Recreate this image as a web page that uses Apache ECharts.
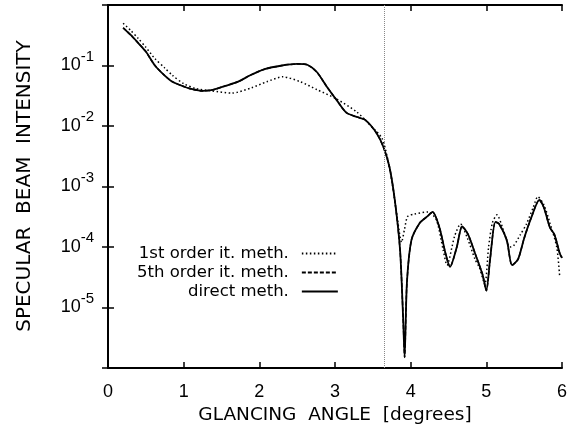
<!DOCTYPE html>
<html>
<head>
<meta charset="utf-8">
<script src="https://cdn.jsdelivr.net/npm/echarts@6/dist/echarts.min.js"></script>
<style>
    html, body { margin: 0; padding: 0; background: #fff; }
    #chart { width: 575px; height: 424px; }
</style>
</head>
<body>
<div id="chart"></div>
<script>
// glancing angle [degrees] and specular beam intensity
var directAngle = [0.20, 0.30, 0.40, 0.50, 0.62, 0.75, 0.85, 1.00, 1.10, 1.25, 1.40, 1.55, 1.72, 1.88, 2.07, 2.30, 2.50, 2.64, 2.76, 2.89,
    3.02, 3.15, 3.29, 3.40, 3.55, 3.64, 3.72, 3.79, 3.86, 3.90, 3.92, 3.95, 4.01, 4.12, 4.22, 4.29, 4.38, 4.46, 4.52, 4.61,
    4.68, 4.76, 4.85, 4.95, 5.00, 5.05, 5.12, 5.17, 5.27, 5.34, 5.42, 5.50, 5.60, 5.70, 5.76, 5.84, 5.90, 5.97, 6.00];
var directVal = [0.42, 0.32, 0.235, 0.17, 0.10, 0.068, 0.054, 0.045, 0.041, 0.038, 0.040, 0.046, 0.054, 0.069, 0.087, 0.100, 0.106, 0.102, 0.078, 0.045,
    0.027, 0.0166, 0.0141, 0.0126, 0.0076, 0.0045, 0.0021, 6.0e-4, 8.9e-5, 6.9e-6, 1.5e-6, 2.5e-5, 1.3e-4, 2.5e-4, 3.2e-4, 3.8e-4, 2.1e-4, 7.9e-5, 4.7e-5, 1.0e-4,
    2.2e-4, 1.6e-4, 7.9e-5, 3.5e-5, 1.9e-5, 6.3e-5, 2.6e-4, 2.4e-4, 1.3e-4, 5.0e-5, 6.3e-5, 1.4e-4, 3.2e-4, 6.0e-4, 4.5e-4, 2.1e-4, 1.6e-4, 7.9e-5, 6.6e-5];

// 5th order iteration lies on top of the direct method
var fifthVal = directVal.slice();

var firstAngle = [0.20, 0.30, 0.40, 0.50, 0.62, 0.75, 0.85, 1.00, 1.15, 1.37, 1.64, 1.90, 2.10, 2.31, 2.54, 2.76, 3.02, 3.29, 3.46, 3.62,
    3.69, 3.75, 3.82, 3.88, 3.92, 3.96, 4.05, 4.23, 4.34, 4.43, 4.48, 4.58, 4.66, 4.75, 4.85, 4.91, 4.98, 5.03, 5.08, 5.14,
    5.22, 5.31, 5.36, 5.45, 5.53, 5.62, 5.68, 5.76, 5.84, 5.93, 5.97];
var firstVal = [0.50, 0.38, 0.28, 0.20, 0.13, 0.091, 0.069, 0.050, 0.042, 0.038, 0.035, 0.043, 0.054, 0.065, 0.054, 0.040, 0.028, 0.017, 0.0105, 0.0063,
    0.0031, 0.00126, 3.2e-4, 1.2e-4, 2.0e-4, 3.2e-4, 3.5e-4, 3.8e-4, 2.8e-4, 8.9e-5, 5.0e-5, 1.5e-4, 2.4e-4, 1.4e-4, 6.3e-5, 4.5e-5, 2.4e-5, 1.0e-4, 2.5e-4, 3.4e-4,
    2.0e-4, 1.0e-4, 1.05e-4, 1.6e-4, 2.4e-4, 4.5e-4, 6.8e-4, 5.0e-4, 2.5e-4, 1.0e-4, 3.2e-5];

var cutoffAngle = 3.65;
var seriesNames = ["1st order it. meth.", "5th order it. meth.", "direct meth."];

(function() {
    var chart = echarts.init(document.getElementById("chart"), null, { renderer: "canvas" }),
        font = "Liberation Sans",
        nameFont = "DejaVu Sans";

    function pairs(xs, ys) {
        return xs.map(function(x, i) {
            return [x, ys[i]];
        });
    }

    function expLabel(v) {
        var e = Math.round(Math.log(v) / Math.LN10);
        if (e === 0 || e === -6) return "";
        return "{b|10}{s|" + e + "}";
    }

    var axisLine = { lineStyle: { color: "#000", width: 2 } },
        tick = { inside: true, length: 6, lineStyle: { color: "#000", width: 1.5 } };

    var option = {
        animation: false,
        grid: { left: 108, right: 13, top: 5, bottom: 56, outerBoundsMode: "none" },
        legend: {
            orient: "vertical",
            left: 132,
            top: 240,
            align: "right",
            itemGap: 2,
            itemWidth: 36,
            itemHeight: 14,
            itemStyle: { opacity: 0 },
            textStyle: { fontFamily: nameFont, fontSize: 16.5, color: "#000", width: 158, align: "right", padding: [0, 8, 0, 0] },
            data: seriesNames
        },
        graphic: [{
            type: "text",
            x: 25,
            y: 186,
            rotation: Math.PI / 2,
            style: {
                text: "SPECULAR  BEAM  INTENSITY",
                fontFamily: nameFont,
                fontSize: 20,
                fill: "#000",
                align: "center",
                verticalAlign: "middle"
            }
        }],
        xAxis: [{
            type: "value", min: 0, max: 6, interval: 1,
            name: "GLANCING  ANGLE  [degrees]",
            nameLocation: "middle", nameGap: 33,
            nameTextStyle: { fontFamily: nameFont, fontSize: 18.5, color: "#000" },
            axisLine: axisLine, axisTick: tick, splitLine: { show: false },
            axisLabel: { fontFamily: font, fontSize: 18, color: "#000", margin: 15 }
        }, {
            type: "value", min: 0, max: 6, interval: 1, position: "top",
            axisLine: axisLine, axisTick: tick, splitLine: { show: false },
            axisLabel: { show: false }
        }],
        yAxis: [{
            type: "log", logBase: 10, min: 1e-6, max: 1,
            axisLine: axisLine, axisTick: tick, splitLine: { show: false }, minorTick: { show: false },
            axisLabel: {
                margin: 14,
                formatter: expLabel,
                rich: {
                    b: { fontFamily: font, fontSize: 18, color: "#000" },
                    s: { fontFamily: font, fontSize: 15, color: "#000", padding: [0, 0, 18, 0] }
                }
            }
        }, {
            type: "log", logBase: 10, min: 1e-6, max: 1, position: "right",
            axisLine: axisLine, axisTick: tick, splitLine: { show: false },
            axisLabel: { show: false }
        }],
        series: [{
            name: seriesNames[0],
            type: "line",
            symbol: "none",
            smooth: 0.25,
            lineStyle: { color: "#000", width: 1.5, type: [1.5, 2.5] },
            data: pairs(firstAngle, firstVal)
        }, {
            name: seriesNames[1],
            type: "line",
            symbol: "none",
            smooth: 0.25,
            lineStyle: { color: "#000", width: 1.5, type: [4, 2] },
            data: pairs(directAngle, fifthVal)
        }, {
            name: seriesNames[2],
            type: "line",
            symbol: "none",
            smooth: 0.25,
            lineStyle: { color: "#000", width: 1.8 },
            data: pairs(directAngle, directVal),
            markLine: {
                silent: true,
                symbol: ["none", "none"],
                label: { show: false },
                lineStyle: { color: "#888", width: 1, type: [1, 1] },
                data: [{ xAxis: cutoffAngle }]
            }
        }]
    };

    chart.setOption(option);
}());
</script>
</body>
</html>
